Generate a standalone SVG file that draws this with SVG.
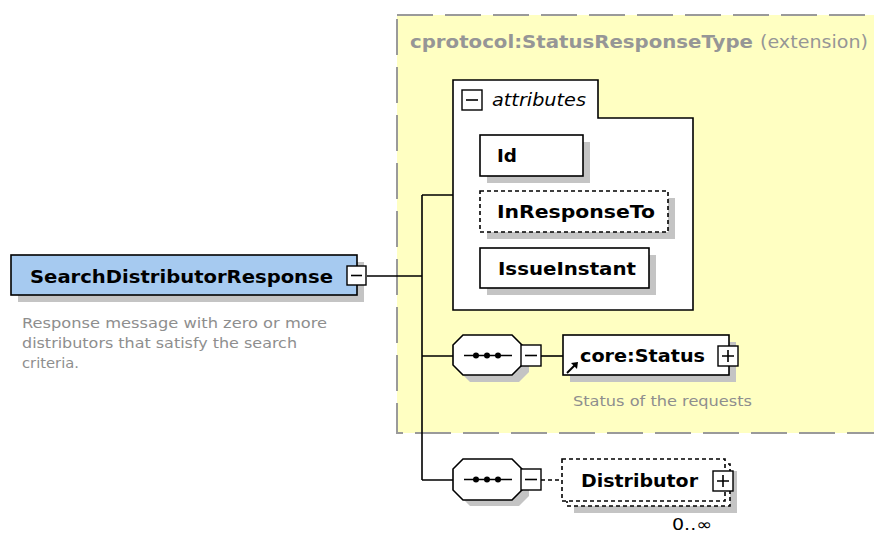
<svg xmlns="http://www.w3.org/2000/svg" width="874" height="536" viewBox="0 0 874 536">
  <style>
    .node { fill: #ffffff; stroke: #000000; stroke-width: 1.6; }
    .dashed { stroke-dasharray: 4,3; }
    .shadow { fill: #c4c4c4; }
    .btn { fill: #ffffff; stroke: #000000; stroke-width: 1.4; }
    .sym { stroke: #000000; stroke-width: 1.6; fill: none; }
    .conn { stroke: #000000; stroke-width: 1.6; fill: none; }
    .lbl { font-family: "DejaVu Sans", "Liberation Sans", sans-serif; font-weight: bold; font-size: 18px; fill: #000000; }
    .doc { font-family: "DejaVu Sans", "Liberation Sans", sans-serif; font-size: 14px; fill: #8e8e8e; }
  </style>
  <rect width="874" height="536" fill="#ffffff"/>

  <!-- complex type extension area -->
  <g id="extension">
    <rect x="397" y="15" width="490" height="418" fill="#ffffc2" stroke="#9a9a9a" stroke-width="2" stroke-dasharray="36,12"/>
    <text x="410" y="48" font-family="DejaVu Sans, Liberation Sans, sans-serif" font-size="17.5" fill="#969696"><tspan font-weight="bold" textLength="343" lengthAdjust="spacingAndGlyphs">cprotocol:StatusResponseType</tspan><tspan x="760" textLength="108" lengthAdjust="spacingAndGlyphs">(extension)</tspan></text>
  </g>

  <!-- connectors -->
  <g id="connectors">
    <path class="conn" d="M367,276 H422 M422,195 V480 M422,195 H453 M422,356 H453 M422,480 H453"/>
    <path class="conn" d="M541,356 H563"/>
    <path class="conn dashed" d="M541,480 H563"/>
  </g>

  <!-- root element -->
  <g id="SearchDistributorResponse">
    <rect class="shadow" x="18" y="262" width="346" height="40"/>
    <rect x="11" y="255" width="346" height="40" fill="#a6caf0" stroke="#000000" stroke-width="1.6"/>
    <text class="lbl" x="30" y="283" textLength="303" lengthAdjust="spacingAndGlyphs">SearchDistributorResponse</text>
    <rect class="btn" x="347" y="266" width="19" height="19"/>
    <path class="sym" d="M351,275.5 H362"/>
    <text class="doc" x="22" y="328" textLength="305" lengthAdjust="spacingAndGlyphs">Response message with zero or more</text>
    <text class="doc" x="22" y="348" textLength="275" lengthAdjust="spacingAndGlyphs">distributors that satisfy the search</text>
    <text class="doc" x="22" y="368" textLength="57" lengthAdjust="spacingAndGlyphs">criteria.</text>
  </g>

  <!-- attribute group -->
  <g id="attributes">
    <path class="node" d="M453,80 H598 V118 H693 V310 H453 Z"/>
    <rect class="btn" x="462" y="90" width="20" height="20"/>
    <path class="sym" d="M466,100 H478"/>
    <text x="492" y="106" font-family="DejaVu Sans, Liberation Sans, sans-serif" font-style="italic" font-size="17.5" fill="#000000" textLength="94" lengthAdjust="spacingAndGlyphs">attributes</text>
  </g>

  <g id="attr-Id">
    <rect class="shadow" x="487" y="142" width="103" height="41"/>
    <rect class="node" x="480" y="135" width="103" height="41"/>
    <text class="lbl" x="497" y="162" textLength="20" lengthAdjust="spacingAndGlyphs">Id</text>
  </g>

  <g id="attr-InResponseTo">
    <rect class="shadow" x="487" y="198" width="188" height="41"/>
    <rect class="node dashed" x="480" y="191" width="188" height="41"/>
    <text class="lbl" x="497" y="218" textLength="158" lengthAdjust="spacingAndGlyphs">InResponseTo</text>
  </g>

  <g id="attr-IssueInstant">
    <rect class="shadow" x="487" y="255" width="169" height="40"/>
    <rect class="node" x="480" y="248" width="169" height="40"/>
    <text class="lbl" x="498" y="275" textLength="138" lengthAdjust="spacingAndGlyphs">IssueInstant</text>
  </g>

  <!-- sequence compositor before core:Status -->
  <g id="sequence-1">
    <path class="shadow" d="M470,342 H519 L529,352 V372 L519,382 H470 L460,372 V352 Z"/>
    <path class="node" d="M463,335 H512 L522,345 V365 L512,375 H463 L453,365 V345 Z"/>
    <path class="sym" d="M464,355.5 H512"/>
    <circle cx="476" cy="355.5" r="3"/>
    <circle cx="487" cy="355.5" r="3"/>
    <circle cx="498" cy="355.5" r="3"/>
    <rect class="btn" x="521" y="345" width="20" height="21"/>
    <path class="sym" d="M525,355.5 H537"/>
  </g>

  <!-- core:Status reference -->
  <g id="core-Status">
    <rect class="shadow" x="570" y="342" width="166" height="40"/>
    <rect class="node" x="563" y="335" width="166" height="40"/>
    <path d="M567,373 L575,365" stroke="#000000" stroke-width="2"/>
    <path d="M578,362 L571,363 L577,369 Z" fill="#000000"/>
    <text class="lbl" x="580" y="362" textLength="125" lengthAdjust="spacingAndGlyphs">core:Status</text>
    <rect class="btn" x="718" y="346" width="20" height="20"/>
    <path class="sym" d="M722,356 H734 M728,350 V362"/>
    <text class="doc" x="573" y="406" textLength="179" lengthAdjust="spacingAndGlyphs">Status of the requests</text>
  </g>

  <!-- sequence compositor before Distributor -->
  <g id="sequence-2">
    <path class="shadow" d="M470,466 H519 L529,476 V496 L519,506 H470 L460,496 V476 Z"/>
    <path class="node" d="M463,459 H512 L522,469 V490 L512,500 H463 L453,490 V469 Z"/>
    <path class="sym" d="M464,479.5 H512"/>
    <circle cx="476" cy="479.5" r="3"/>
    <circle cx="487" cy="479.5" r="3"/>
    <circle cx="498" cy="479.5" r="3"/>
    <rect class="btn" x="521" y="469" width="20" height="21"/>
    <path class="sym" d="M525,479.5 H537"/>
  </g>

  <!-- Distributor, optional and repeating -->
  <g id="Distributor">
    <rect class="shadow" x="574" y="471" width="163" height="42"/>
    <rect class="node dashed" x="567" y="464" width="163" height="42"/>
    <rect class="node dashed" x="562" y="459" width="163" height="42"/>
    <text class="lbl" x="581" y="487" textLength="117" lengthAdjust="spacingAndGlyphs">Distributor</text>
    <rect class="btn" x="713" y="471" width="20" height="20"/>
    <path class="sym" d="M717,481 H729 M723,475 V487"/>
    <text x="672" y="530" font-family="DejaVu Sans, Liberation Sans, sans-serif" font-size="16" fill="#000000" textLength="40" lengthAdjust="spacingAndGlyphs">0..∞</text>
  </g>
</svg>
